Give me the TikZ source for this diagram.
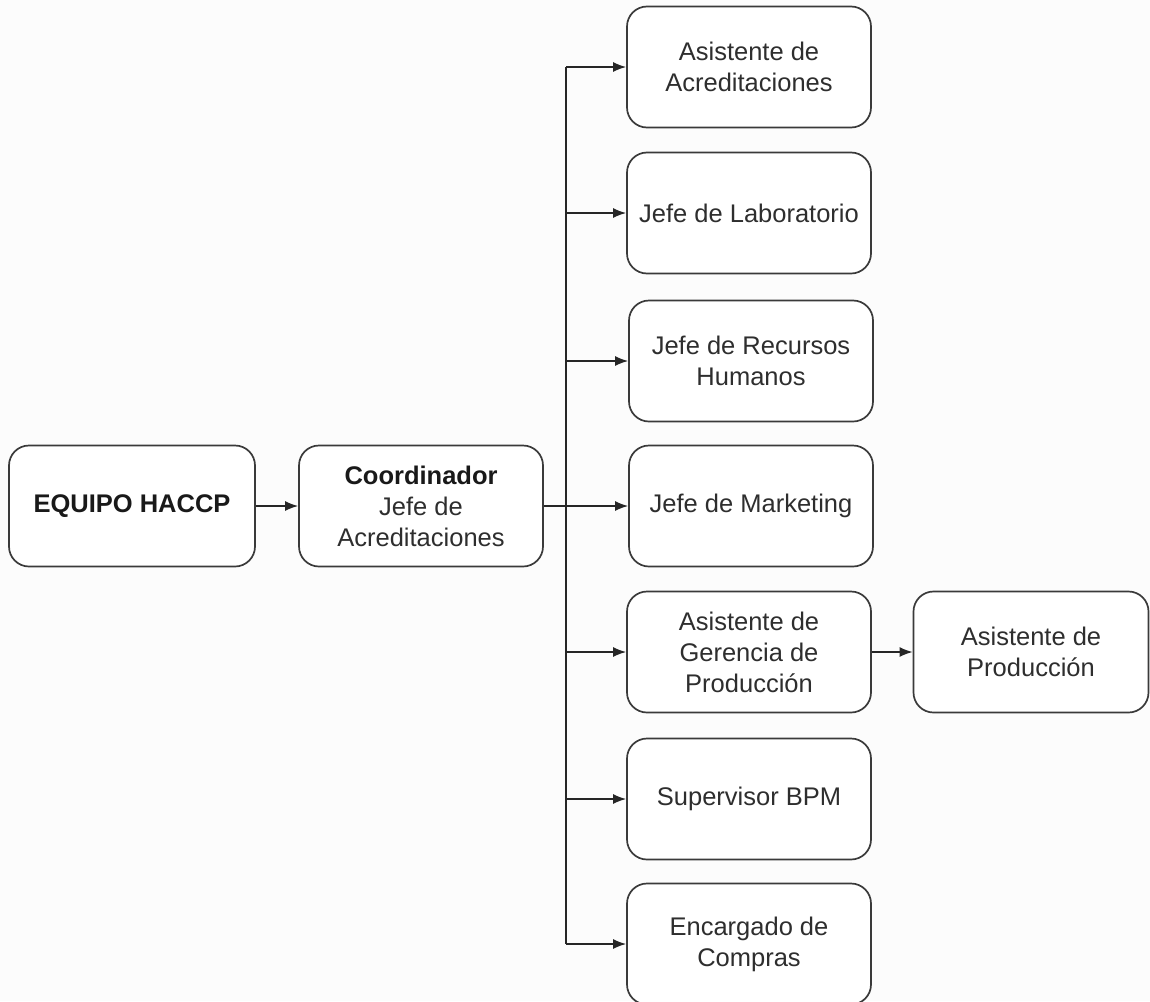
\documentclass[tikz,border=0pt]{standalone}
\usepackage{fontspec}
\setmainfont{Liberation Sans}
\usetikzlibrary{arrows.meta}
\definecolor{boxline}{HTML}{3A3A3A}
\definecolor{txt}{HTML}{2E2E2E}
\definecolor{bg}{HTML}{FCFCFC}
\begin{document}
\begin{tikzpicture}[x=1pt,y=-1pt,
  box/.style={draw=boxline, line width=1.7pt, rounded corners=20pt, fill=white,
    minimum width=244pt, minimum height=121pt, align=center, text=txt,
    font=\fontsize{25.5}{31}\selectfont, inner sep=2pt},
  link/.style={draw=black!85, line width=1.5pt},
  arr/.style={link, -{Latex[length=13pt,width=10pt]}}]
% page
\fill[bg] (0,0) rectangle (1150,1001);
\useasboundingbox (0,0) rectangle (1150,1001);
% boxes
\node[box, minimum width=246pt] (equipo) at (132,506) {\textcolor{black!90}{\textbf{EQUIPO HACCP}}};
\node[box] (coord) at (421,506) {\textcolor{black!90}{\textbf{Coordinador}}\\Jefe de\\Acreditaciones};
\node[box] (asis) at (749,67) {Asistente de\\Acreditaciones};
\node[box] (lab) at (749,213) {Jefe de Laboratorio};
\node[box] (rrhh) at (751,361) {Jefe de Recursos\\Humanos};
\node[box] (mkt) at (751,506) {Jefe de Marketing};
\node[box] (agp) at (749,652) {Asistente de\\Gerencia de\\Producción};
\node[box] (bpm) at (749,799) {Supervisor BPM};
\node[box] (comp) at (749,944) {Encargado de\\Compras};
\node[box, minimum width=235pt] (ap) at (1031,652) {Asistente de\\Producción};
% spine of the branch
\coordinate (spine) at (566,0);
\draw[link] (asis.west -| spine) -- (comp.west -| spine);
% connectors
\draw[arr] (equipo.east) -- (coord.west);
\draw[arr] (coord.east) -- (mkt.west);
\foreach \n in {asis,lab,rrhh,agp,bpm,comp}
  \draw[arr] (\n.west -| spine) -- (\n.west);
\draw[arr] (agp.east) -- (ap.west);
\end{tikzpicture}
\end{document}
